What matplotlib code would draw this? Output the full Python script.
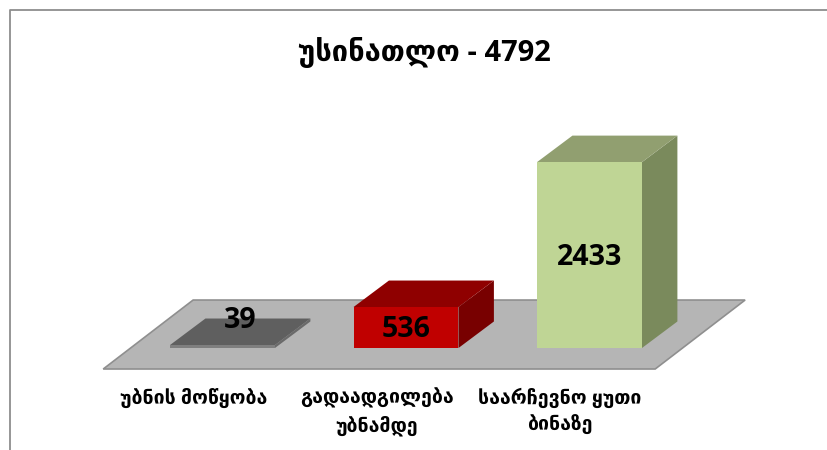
import matplotlib
matplotlib.use('Agg')
import matplotlib.pyplot as plt
from matplotlib.patches import Polygon

title = 'უსინათლო - 4792'
categories = ['უბნის მოწყობა', 'გადაადგილება\nუბნამდე', 'საარჩევნო ყუთი\nბინაზე']
values = [39, 536, 2433]

front_colors = ['#7f7f7f', '#c00000', '#bfd595']
top_colors = ['#5f5f5f', '#8f0000', '#919f70']
side_colors = ['#6a6a6a', '#780000', '#7a8a5c']

fonts = ['Open Sans', 'DejaVu Sans']

# x is in category steps, y is in votes
bar_w = 0.572
depth_x = 0.193
depth_y = 347

fig = plt.figure(figsize=(8.28, 4.5), dpi=100)
ax = fig.add_axes([0, 0, 1, 1])
ax.set_xlim(-1.2125, 3.2997)
ax.set_ylim(-1335, 4555)
ax.axis('off')

# page frame, only left and top show in the crop
ax.add_artist(plt.Line2D([9.5/828, 9.5/828, 1], [0, 1 - 9.5/450, 1 - 9.5/450],
                         transform=ax.transAxes, color='#8e8e8e', lw=1.3))

# floor of the 3d chart
floor_pts = [(-0.650, -275), (2.358, -275), (2.848, 628), (-0.160, 628)]
ax.add_patch(Polygon(floor_pts, closed=True, fc='#b5b5b5', ec='#8f8f8f', lw=1.2, zorder=1))

for i, v in enumerate(values):
    x0 = i - bar_w/2
    x1 = i + bar_w/2
    # side, top, front
    ax.add_patch(Polygon([(x1, 0), (x1 + depth_x, depth_y), (x1 + depth_x, v + depth_y), (x1, v)],
                         closed=True, fc=side_colors[i], ec='none', zorder=2))
    ax.add_patch(Polygon([(x0, v), (x1, v), (x1 + depth_x, v + depth_y), (x0 + depth_x, v + depth_y)],
                         closed=True, fc=top_colors[i], ec='none', zorder=2))
    ax.bar(i, v, width=bar_w, bottom=0, color=front_colors[i], zorder=3)

    # the small bar has no front to write on so it goes on the back edge
    if v < 100:
        lx = i + depth_x/2
        ly = v + depth_y
    else:
        lx = i
        ly = v/2
    ax.text(lx, ly - 30, str(v), ha='center', va='center', fontsize=20.5, fontweight='bold',
            family=fonts, color='black', zorder=5)

    ax.text(i - 0.16, -530, categories[i], ha='center', va='top', fontsize=14, fontweight='bold',
            family=fonts, color='black', linespacing=1.45, zorder=5)

ax.text(0.513, 1 - 53/450, title, transform=ax.transAxes, ha='center', va='center',
        fontsize=21, fontweight='bold', family=fonts, color='black')

fig.savefig('out.png', dpi=100)
